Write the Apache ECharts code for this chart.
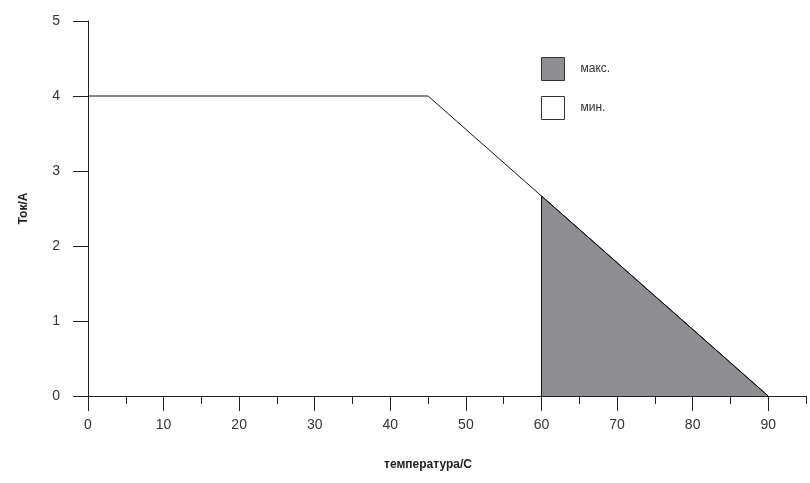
<!DOCTYPE html>
<html>
<head>
<meta charset="utf-8">
<script src="https://cdn.jsdelivr.net/npm/echarts@6/dist/echarts.min.js"></script>
<style>
  html, body { margin: 0; padding: 0; background: #fff; }
  #chart { width: 810px; height: 483px; }
</style>
</head>
<body>
<div id="chart"></div>
<script>
// данные
const minLine = [[0, 4], [45, 4], [90, 0]];
const maxArea = [[60, 0], [60, 2.667], [90, 0]];
const xLabels = [0, 10, 20, 30, 40, 50, 60, 70, 80, 90];
const seriesNames = ['макс.', 'мин.'];

const numFont = "'Liberation Sans', Arial, sans-serif";
const axisColor = '#222';

const chart = echarts.init(document.getElementById('chart'));

chart.setOption({
  animation: false,
  grid: { left: 88, right: 4, top: 21, bottom: 87 },
  legend: {
    orient: 'vertical',
    left: 541,
    top: 57,
    padding: 0,
    itemWidth: 23,
    itemHeight: 23,
    itemGap: 15,
    icon: 'rect',
    textStyle: { color: '#333', fontSize: 12, fontFamily: numFont, padding: [0, 0, 0, 11] },
    data: [
      { name: seriesNames[0], itemStyle: { color: '#8e8e92', borderColor: '#333', borderWidth: 1 } },
      { name: seriesNames[1], itemStyle: { color: '#fff', borderColor: '#333', borderWidth: 1 } }
    ]
  },
  xAxis: [
    {
      type: 'value',
      min: 0,
      max: 95,
      interval: 5,
      name: 'температура/С',
      nameLocation: 'middle',
      nameGap: 63,
      nameTextStyle: { color: '#222', fontSize: 12, fontWeight: 'bold', fontFamily: 'Liberation Sans', padding: [0, 38, 0, 0] },
      axisLine: { show: true, lineStyle: { color: axisColor, width: 1 } },
      axisTick: { show: true, length: 8, lineStyle: { color: axisColor } },
      axisLabel: { show: false },
      splitLine: { show: false }
    },
    {
      type: 'value',
      min: 0,
      max: 95,
      position: 'bottom',
      axisLine: { show: false },
      axisTick: { show: true, length: 15, customValues: xLabels, lineStyle: { color: axisColor } },
      axisLabel: { show: true, customValues: xLabels, margin: 22, color: '#333', fontSize: 14, fontFamily: numFont },
      splitLine: { show: false }
    }
  ],
  yAxis: {
    type: 'value',
    min: 0,
    max: 5,
    interval: 1,
    name: 'Ток/А',
    nameLocation: 'middle',
    nameGap: 58,
    nameTextStyle: { color: '#222', fontSize: 12, fontWeight: 'bold', fontFamily: 'Liberation Sans' },
    axisLine: { show: true, lineStyle: { color: axisColor, width: 1 } },
    axisTick: { show: true, length: 15, lineStyle: { color: axisColor } },
    axisLabel: { margin: 28, color: '#333', fontSize: 14, fontFamily: numFont },
    splitLine: { show: false }
  },
  series: [
    {
      name: seriesNames[0],
      type: 'line',
      xAxisIndex: 0,
      data: maxArea,
      showSymbol: false,
      symbol: 'none',
      lineStyle: { color: '#111', width: 1 },
      itemStyle: { color: '#8e8e92' },
      areaStyle: { color: '#8e8e92', opacity: 1 },
      z: 2
    },
    {
      name: seriesNames[1],
      type: 'line',
      xAxisIndex: 0,
      data: minLine,
      showSymbol: false,
      symbol: 'none',
      lineStyle: { color: '#111', width: 1 },
      itemStyle: { color: '#fff' },
      z: 3
    }
  ]
});
</script>
</body>
</html>
